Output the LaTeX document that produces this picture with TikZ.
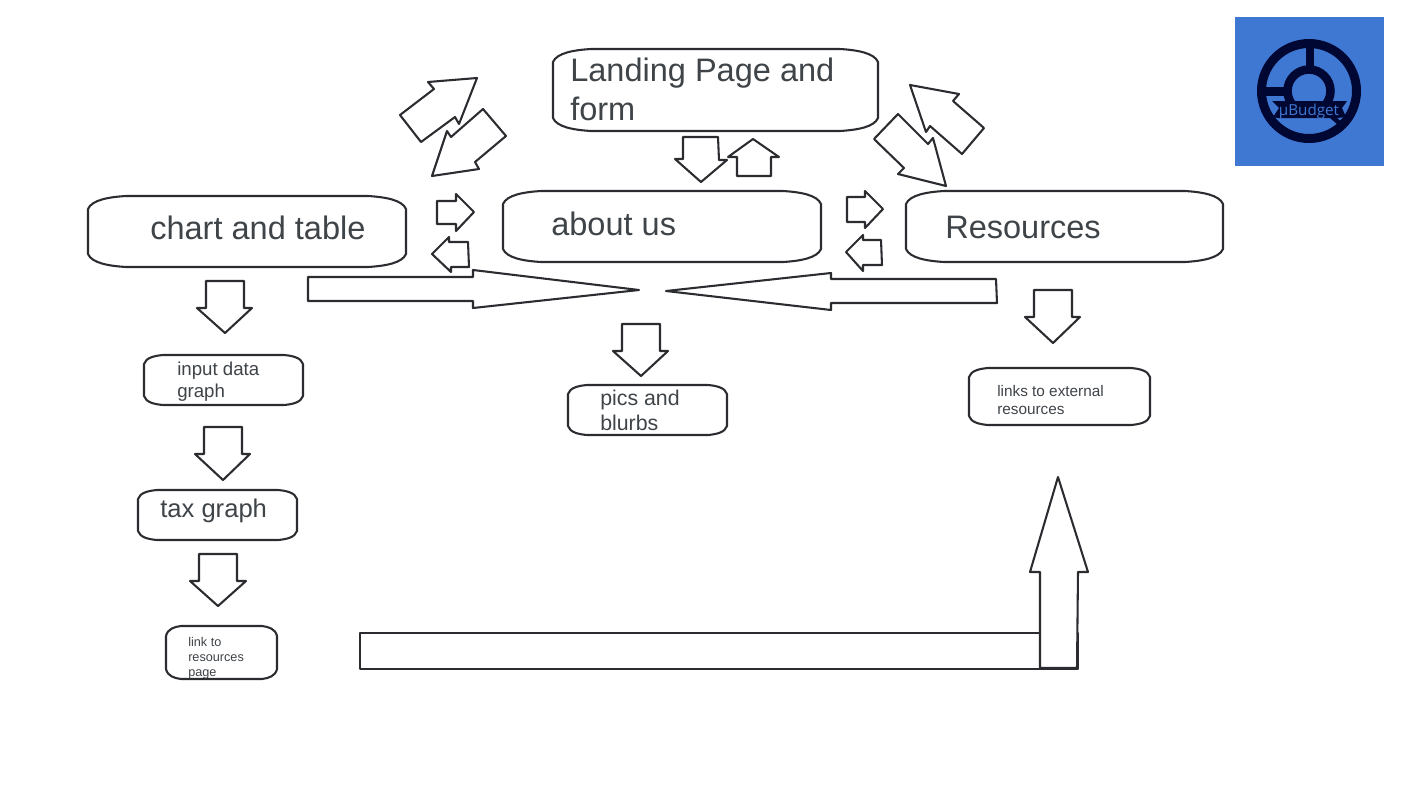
\documentclass[tikz,border=0pt]{standalone}
\usepackage{fontspec}
\setmainfont{Liberation Sans}
\newfontfamily\logofont{Open Sans}
\definecolor{inkc}{HTML}{2A2C30}
\definecolor{textc}{HTML}{3F4449}
\definecolor{logobg}{HTML}{3F78D3}
\definecolor{logofg}{HTML}{000733}
\tikzset{
  shapeline/.style={draw=inkc,line width=1.55pt,fill=white,line join=round},
  lbl/.style={inner sep=0pt,anchor=north west,align=left,text=textc},
  big/.style={lbl,font=\fontsize{24.4}{29.25}\selectfont},
  mid/.style={lbl,font=\fontsize{19.2}{23}\selectfont},
  pic/.style={lbl,font=\fontsize{16}{18.8}\selectfont},
  inp/.style={lbl,font=\fontsize{14}{16.5}\selectfont},
  ext/.style={lbl,font=\fontsize{11.5}{13.5}\selectfont},
  tiny/.style={lbl,font=\fontsize{9.5}{11.25}\selectfont},
}
\newcommand{\skbox}[6]{%
  \draw[shapeline] ({#1+#5},#2) -- ({#3-#5},#2)
    .. controls ({#3-0.55*#5},{#2+0.08*#6}) and ({#3-0.1*#5},{#2+0.3*#6}) .. (#3,{#2+#6})
    -- (#3,{#4-#6})
    .. controls ({#3-0.1*#5},{#4-0.3*#6}) and ({#3-0.55*#5},{#4-0.08*#6}) .. ({#3-#5},#4)
    -- ({#1+#5},#4)
    .. controls ({#1+0.55*#5},{#4-0.08*#6}) and ({#1+0.1*#5},{#4-0.3*#6}) .. (#1,{#4-#6})
    -- (#1,{#2+#6})
    .. controls ({#1+0.1*#5},{#2+0.3*#6}) and ({#1+0.55*#5},{#2+0.08*#6}) .. ({#1+#5},#2) -- cycle;}
\begin{document}
\begin{tikzpicture}[x=0.75pt,y=-0.75pt]
\useasboundingbox (0,0) rectangle (1422,800);
\fill[white] (0,0) rectangle (1422,800);
% logo
\fill[logobg] (1235,17) rectangle (1384,166);
\draw[logofg,line width=6.75pt] (1309,91) circle (47.5);
\draw[logofg,line width=6.4pt] (1309,91) circle (21.5);
\fill[logofg] (1306,42) rectangle (1314,68);
\fill[logofg] (1265,87) rectangle (1285,96);
\fill[logofg] (1272,101) -- (1347,101) -- (1342,108) -- (1346,117) -- (1337,118) -- (1343,123) -- (1338,125) -- (1330,118) -- (1278,118) -- (1273,117) -- (1279,108) -- cycle;
\node[inner sep=0pt,text=logobg,font=\logofont\fontsize{11.4}{12}\selectfont] (logotext) at (1309,112) {µBudget};
% boxes
\skbox{553}{49}{878}{131}{38}{13}
\skbox{88}{196}{406}{267}{38}{13}
\skbox{503}{191}{821}{262}{38}{13}
\skbox{906}{191}{1223}{262}{38}{13}
\skbox{144}{355}{303}{405}{19}{9}
\skbox{568}{385}{727}{435}{19}{9}
\skbox{969}{368}{1150}{425}{19}{9}
\skbox{138}{490}{297}{540}{19}{9}
\skbox{166}{626}{277}{679}{15}{10}
% labels
\node[big] (landing) at (570,58) {Landing Page and\\form};
\node[big] (chart) at (150,216) {chart and table};
\node[big] (about) at (551,212) {about us};
\node[big] (res) at (945,216) {Resources};
\node[inp] (input) at (177,362) {input data\\graph};
\node[pic] (pics) at (600,390) {pics and\\blurbs};
\node[ext] (links) at (997,385) {links to external\\resources};
\node[mid] (tax) at (160,499) {tax graph};
\node[tiny] (linkres) at (188,637) {link to\\resources\\page};
% arrows
\draw[shapeline] (400,115) -- (434,89) -- (428,82) -- (477,78) -- (459,124) -- (455,117) -- (421,142) -- cycle;
\draw[shapeline] (483,109) -- (506,136) -- (475,162) -- (479,169) -- (432,176) -- (447,131) -- (451,137) -- cycle;
\draw[shapeline] (437,201) -- (456,201) -- (456,194) -- (474,212) -- (456,231) -- (456,224) -- (437,224) -- cycle;
\draw[shapeline] (432,254) -- (449,237) -- (449,242) -- (468,242) -- (469,267) -- (451,267) -- (451,272) -- cycle;
\draw[shapeline] (683,137) -- (718,137) -- (719,160) -- (727,160) -- (701,182) -- (675,159) -- (683,159) -- cycle;
\draw[shapeline] (753,139) -- (779,157) -- (771,157) -- (771,176) -- (737,176) -- (737,157) -- (728,157) -- cycle;
\draw[shapeline] (910,85) -- (959,94) -- (953,101) -- (984,128) -- (962,154) -- (930,126) -- (926,132) -- cycle;
\draw[shapeline] (898,114) -- (928,144) -- (933,138) -- (946,186) -- (898,174) -- (904,168) -- (874,139) -- cycle;
\draw[shapeline] (847,197) -- (865,197) -- (865,191) -- (883,209) -- (865,228) -- (865,222) -- (847,222) -- cycle;
\draw[shapeline] (846,252) -- (863,235) -- (863,240) -- (881,240) -- (882,265) -- (863,265) -- (863,271) -- cycle;
\draw[shapeline] (308,277) -- (473,277) -- (473,270) -- (639,290) -- (473,308) -- (473,301) -- (308,301) -- cycle;
\draw[shapeline] (666,291) -- (831,273) -- (831,279) -- (996,279) -- (997,303) -- (831,303) -- (831,310) -- cycle;
\draw[shapeline] (206,281) -- (244,281) -- (244,308) -- (252,308) -- (225,333) -- (197,308) -- (206,308) -- cycle;
\draw[shapeline] (622,324) -- (660,324) -- (660,351) -- (668,351) -- (641,376) -- (613,351) -- (622,351) -- cycle;
\draw[shapeline] (1034,290) -- (1072,290) -- (1072,317) -- (1080,317) -- (1053,343) -- (1025,317) -- (1034,317) -- cycle;
\draw[shapeline] (204,427) -- (242,427) -- (242,454) -- (250,454) -- (223,480) -- (195,454) -- (204,454) -- cycle;
\draw[shapeline] (199,554) -- (237,554) -- (237,581) -- (246,581) -- (218,606) -- (190,581) -- (199,581) -- cycle;
\draw[shapeline] (360,633) rectangle (1078,669);
\draw[shapeline] (1040,668) -- (1040,572) -- (1030,572) -- (1058,477) -- (1088,572) -- (1078,572) -- (1077,668) -- cycle;
\end{tikzpicture}
\end{document}
